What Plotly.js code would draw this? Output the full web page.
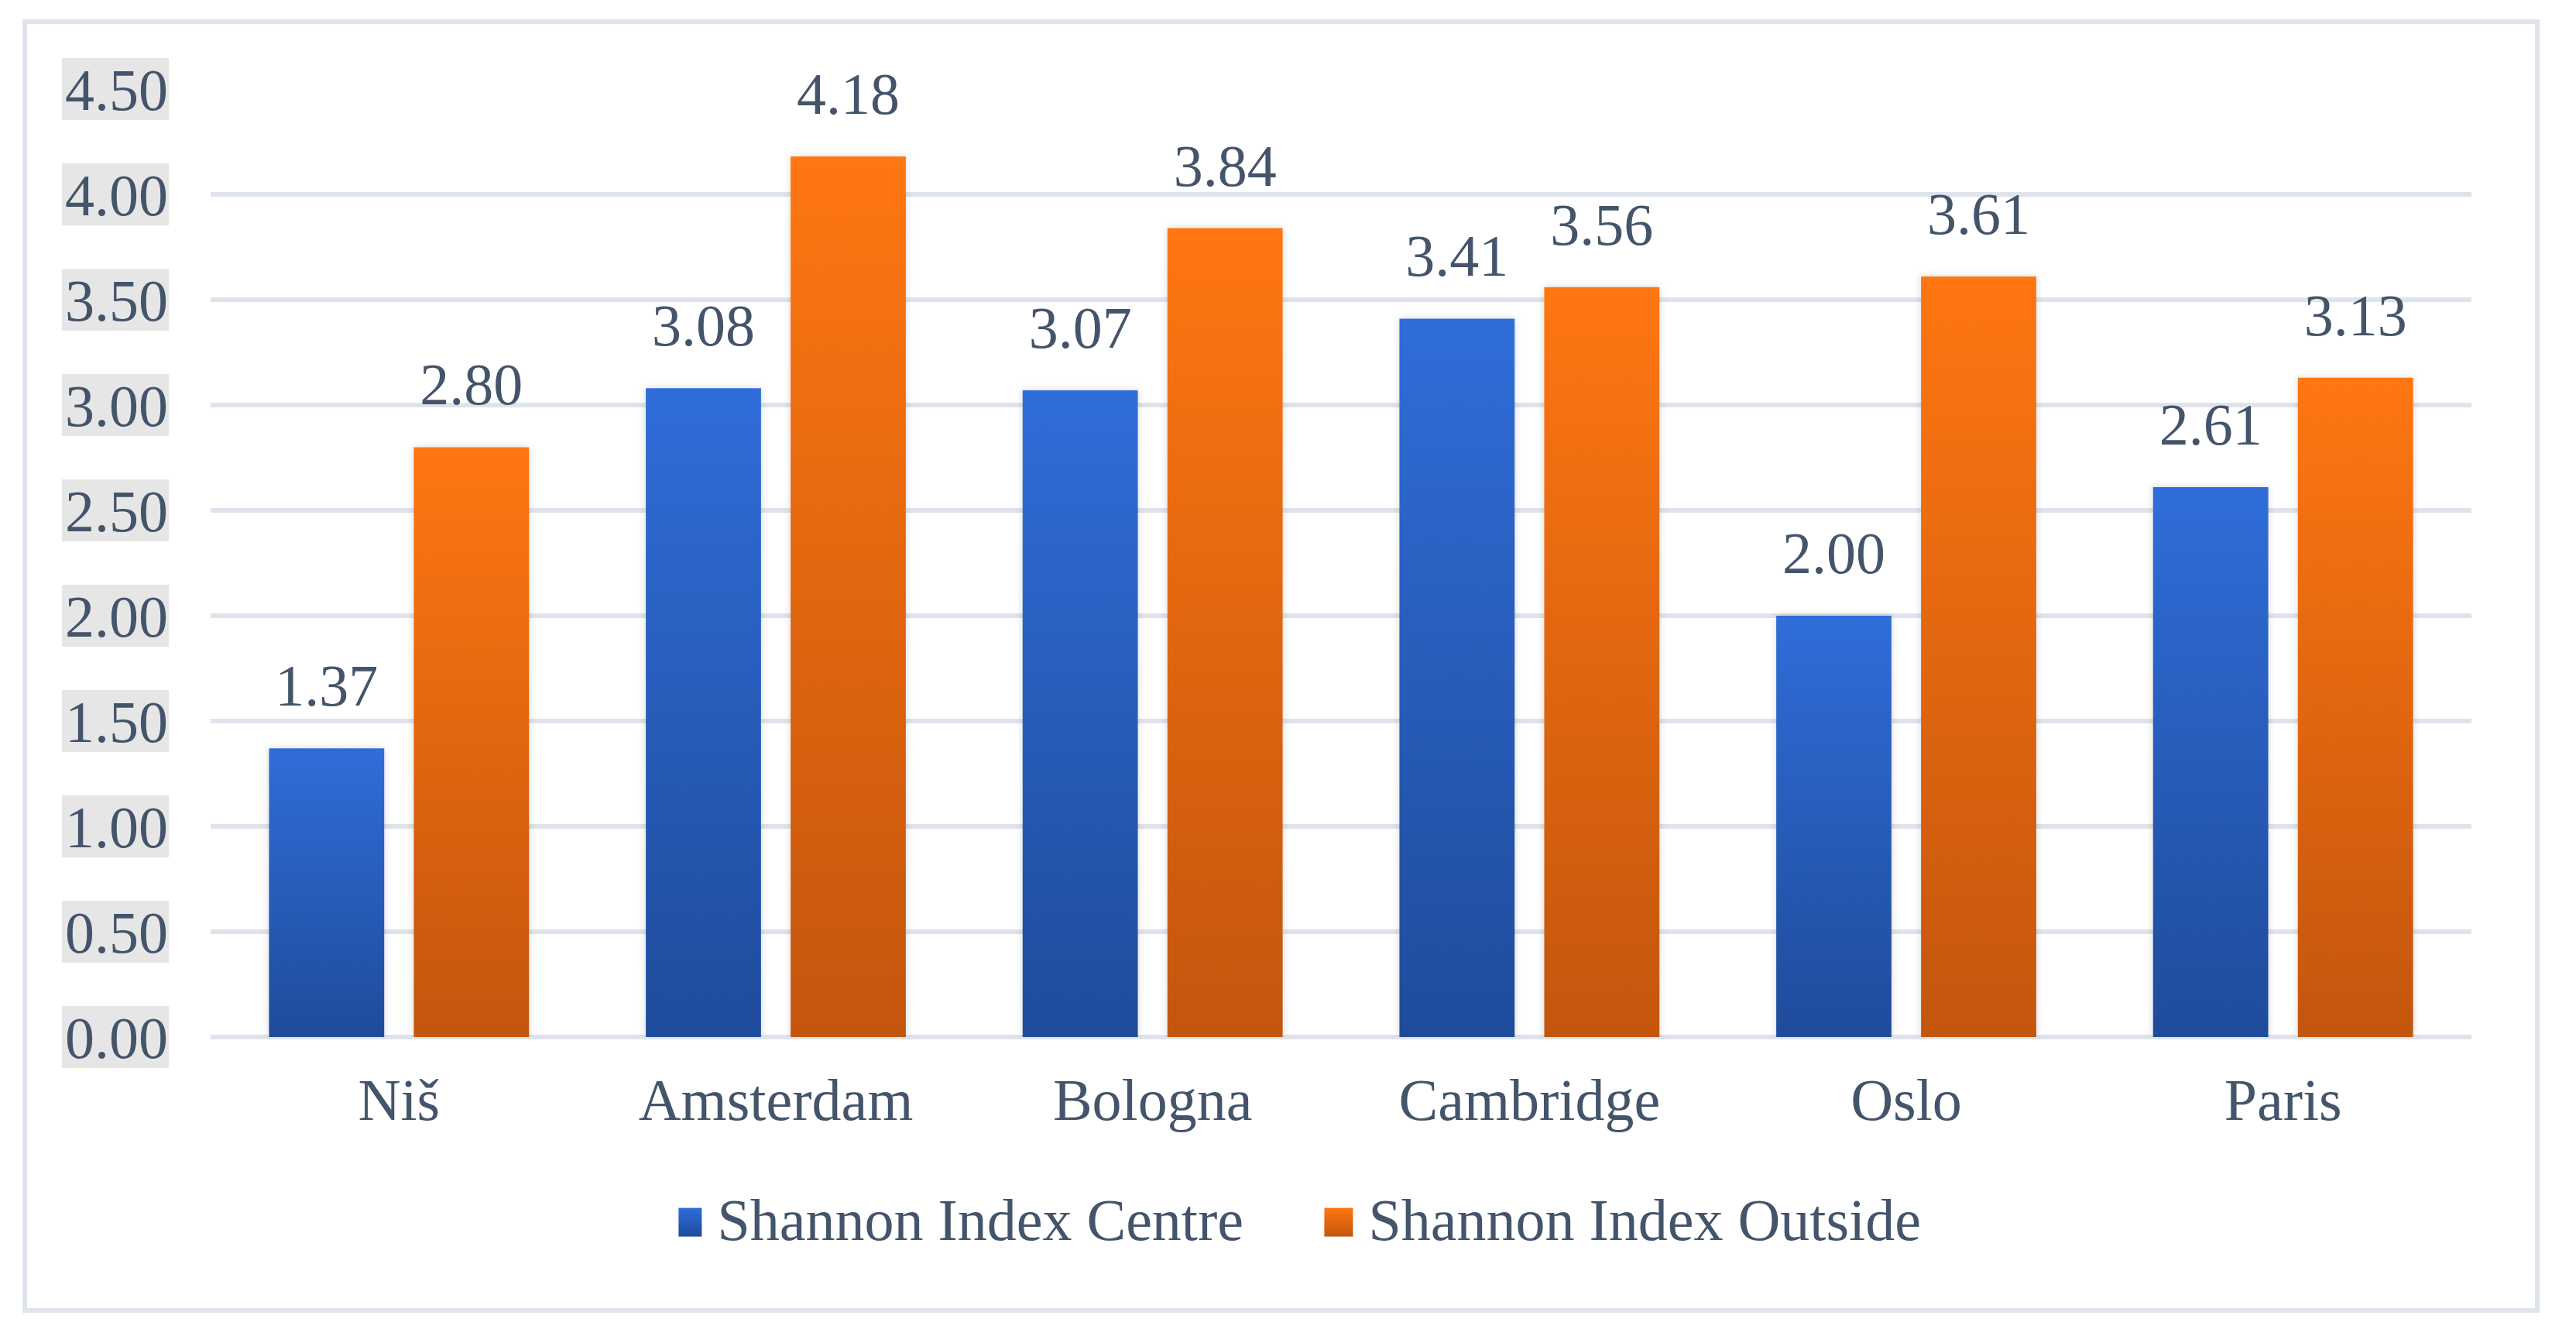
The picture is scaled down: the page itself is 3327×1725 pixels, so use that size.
<!DOCTYPE html>
<html>
<head>
<meta charset="utf-8">
<script src="https://cdn.plot.ly/plotly-3.0.1.min.js"></script>
<style>
  html, body { margin: 0; padding: 0; background: #ffffff; }
  #chart { position: absolute; left: 0; top: 0; width: 3327px; height: 1725px; }
  #frame { position: absolute; left: 29px; top: 25px; width: 3251px; height: 1670px;
           box-sizing: border-box; border: 6px solid #dfe3eb; pointer-events: none; }
</style>
</head>
<body>
<div id="chart"></div>
<div id="frame"></div>
<script>
// ---- data ----
const categories = ['Niš', 'Amsterdam', 'Bologna', 'Cambridge', 'Oslo', 'Paris'];
const centreValues = [1.37, 3.08, 3.07, 3.41, 2.00, 2.61];
const outsideValues = [2.80, 4.18, 3.84, 3.56, 3.61, 3.13];
const seriesNames = ['Shannon Index Centre', 'Shannon Index Outside'];
const yTicks = [0, 0.5, 1, 1.5, 2, 2.5, 3, 3.5, 4, 4.5];

// ---- style ----
const FONT = 'Liberation Serif, Times New Roman, serif';
const TXT = '#44546a';
const FS = 76;
const GRID = '#dfe3eb';
const yMax = 4.5;

const barCommon = { type: 'bar', x: categories, cliponaxis: false, hoverinfo: 'skip' };
const traces = [
  Object.assign({}, barCommon, { name: seriesNames[0], y: centreValues, offsetgroup: 'c',
    marker: { color: '#2a5fc0' } }),
  Object.assign({}, barCommon, { name: seriesNames[1], y: outsideValues, offsetgroup: 'o',
    marker: { color: '#e66710' } }),
];
[centreValues, outsideValues].forEach((vals, i) => {
  traces.push({
    type: 'scatter', mode: 'markers+text', x: categories, y: vals,
    offsetgroup: i === 0 ? 'c' : 'o',
    text: vals.map(v => v.toFixed(2)), textposition: 'top center',
    textfont: { family: FONT, size: FS, color: TXT },
    marker: { size: 56, opacity: 0 }, showlegend: false, hoverinfo: 'skip', cliponaxis: false
  });
});

// grey backing boxes behind y tick labels
const shapes = yTicks.map(t => ({
  type: 'rect', xref: 'paper', yref: 'paper', layer: 'below',
  x0: -0.0658, x1: -0.0185, y0: t / yMax - 0.0327, y1: t / yMax + 0.0327,
  fillcolor: '#e6e6e6', line: { width: 0 }
}));

const layout = {
  width: 3327, height: 1725,
  margin: { l: 272, r: 135, t: 115, b: 386 },
  paper_bgcolor: 'rgba(0,0,0,0)', plot_bgcolor: 'rgba(0,0,0,0)',
  font: { family: FONT, size: FS, color: TXT },
  barmode: 'group', bargap: 0.2314, bargroupgap: 0.2045,
  scattermode: 'group', scattergap: 0.2314,
  showlegend: true,
  legend: { orientation: 'h', x: 0.495, xanchor: 'center', y: -0.19, yanchor: 'middle',
            font: { family: FONT, size: FS, color: TXT }, itemwidth: 40, traceorder: 'normal',
            entrywidth: 786, entrywidthmode: 'pixels' },
  xaxis: { type: 'category', showgrid: false, showline: false, zeroline: false, ticks: '',
           tickfont: { family: FONT, size: FS, color: TXT }, ticklabelstandoff: 30, fixedrange: true },
  yaxis: { range: [0, yMax], tickvals: yTicks, ticktext: yTicks.map(t => t.toFixed(2)),
           showgrid: true, gridcolor: GRID, gridwidth: 6, zeroline: true, zerolinecolor: GRID,
           zerolinewidth: 6, showline: false, ticks: '', ticklabelstandoff: 54,
           tickfont: { family: FONT, size: FS, color: TXT }, fixedrange: true },
  shapes: shapes
};

const gd = document.getElementById('chart');
Plotly.newPlot(gd, traces, layout, { staticPlot: true, displayModeBar: false }).then(() => {
  const svg = gd.querySelector('svg.main-svg');
  const ns = 'http://www.w3.org/2000/svg';
  let defs = svg.querySelector('defs');
  if (!defs) { defs = document.createElementNS(ns, 'defs'); svg.insertBefore(defs, svg.firstChild); }
  const grads = [['gBlue', '#2f6dd8', '#1f4b9b'], ['gOrange', '#ff7612', '#c3560d']];
  grads.forEach(([id, top, bot]) => {
    const lg = document.createElementNS(ns, 'linearGradient');
    lg.setAttribute('id', id); lg.setAttribute('x1', '0'); lg.setAttribute('y1', '0');
    lg.setAttribute('x2', '0'); lg.setAttribute('y2', '1');
    [[0, top], [1, bot]].forEach(([o, c]) => {
      const s = document.createElementNS(ns, 'stop');
      s.setAttribute('offset', o); s.setAttribute('stop-color', c); lg.appendChild(s);
    });
    defs.appendChild(lg);
  });
  gd.querySelectorAll('.barlayer .trace').forEach((tr, i) => {
    tr.querySelectorAll('path').forEach(p => {
      p.style.fill = 'url(#' + grads[i][0] + ')';
      p.style.filter = 'drop-shadow(0px 0px 5px rgba(0,0,0,0.16))';
    });
  });
  // larger legend swatches, placed just left of each legend label
  gd.querySelectorAll('.legend .traces').forEach((tr, i) => {
    const txt = tr.querySelector('text.legendtext');
    tr.querySelectorAll('.legendpoints path').forEach(p => { p.style.display = 'none'; });
    const bb = txt.getBBox();
    const size = 37;
    const rect = document.createElementNS(ns, 'rect');
    rect.setAttribute('x', bb.x - 20 - size);
    rect.setAttribute('y', bb.y + bb.height / 2 - size / 2 + 3);
    rect.setAttribute('width', size);
    rect.setAttribute('height', size);
    rect.setAttribute('fill', 'url(#' + grads[i][0] + ')');
    tr.appendChild(rect);
  });
});
</script>
</body>
</html>
